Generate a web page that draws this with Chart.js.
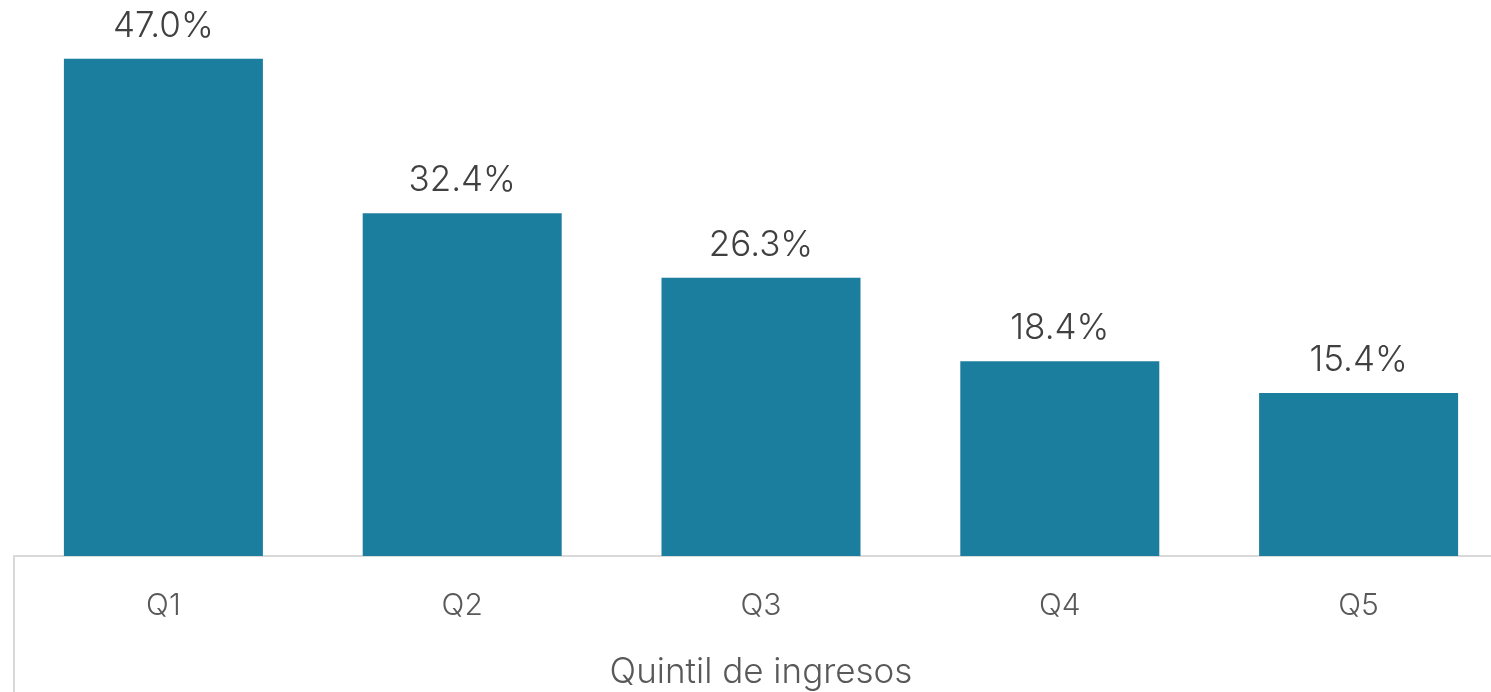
<!DOCTYPE html>
<html>
<head>
<meta charset="utf-8">
<script src="https://cdn.jsdelivr.net/npm/chart.js@4.4.0/dist/chart.umd.min.js"></script>
<style>
    html, body { margin: 0; padding: 0; background: #fff; overflow: hidden; }
    #wrap { width: 1508px; height: 692px; position: relative; }
</style>
</head>
<body>
<div id="wrap"><canvas id="quintilChart"></canvas></div>
<script>
// datos del grafico
const categorias = ['Q1', 'Q2', 'Q3', 'Q4', 'Q5'];
const valores = [47.0, 32.4, 26.3, 18.4, 15.4];
const tituloEje = 'Quintil de ingresos';

const FUENTE = 'Inter, "Open Sans", sans-serif';

// etiquetas de valor encima de cada barra
const etiquetasBarras = {
    id: 'etiquetasBarras',
    afterDatasetsDraw(chart) {
        const ctx = chart.ctx;
        const meta = chart.getDatasetMeta(0);
        ctx.save();
        ctx.font = '300 35px ' + FUENTE;
        ctx.fillStyle = '#404040';
        ctx.textAlign = 'center';
        ctx.textBaseline = 'alphabetic';
        meta.data.forEach((bar, i) => {
            ctx.fillText(valores[i].toFixed(1) + '%', bar.x, bar.y - 22);
        });
        ctx.restore();
    }
};

// linea vertical izquierda bajo el eje
const lineaIzquierda = {
    id: 'lineaIzquierda',
    afterDraw(chart) {
        const ctx = chart.ctx;
        const x = chart.scales.x.left;
        ctx.save();
        ctx.strokeStyle = '#d9d9d9';
        ctx.lineWidth = 2;
        ctx.beginPath();
        ctx.moveTo(x, chart.chartArea.bottom);
        ctx.lineTo(x, chart.height);
        ctx.stroke();
        ctx.restore();
    }
};

const ctx1 = document.getElementById('quintilChart').getContext('2d');
new Chart(ctx1, {
    type: 'bar',
    data: {
        labels: categorias,
        datasets: [{
            data: valores,
            backgroundColor: '#1c7e9e',
            borderWidth: 0,
            categoryPercentage: 1.0,
            barPercentage: 0.666
        }]
    },
    options: {
        responsive: true,
        maintainAspectRatio: false,
        animation: false,
        layout: { padding: { left: 14, right: 0, top: 27, bottom: 0 } },
        plugins: {
            legend: { display: false },
            tooltip: { enabled: false }
        },
        scales: {
            x: {
                grid: { display: false, drawTicks: false },
                border: { display: true, color: '#d9d9d9', width: 2 },
                ticks: {
                    padding: 32,
                    color: '#595959',
                    font: { family: FUENTE, size: 30, weight: '300' }
                },
                title: {
                    display: true,
                    text: tituloEje,
                    color: '#595959',
                    padding: { top: -5, bottom: -1 },
                    font: { family: FUENTE, size: 35, weight: '300' }
                }
            },
            y: {
                display: false,
                min: 0,
                max: 50
            }
        }
    },
    plugins: [etiquetasBarras, lineaIzquierda]
});
</script>
</body>
</html>
